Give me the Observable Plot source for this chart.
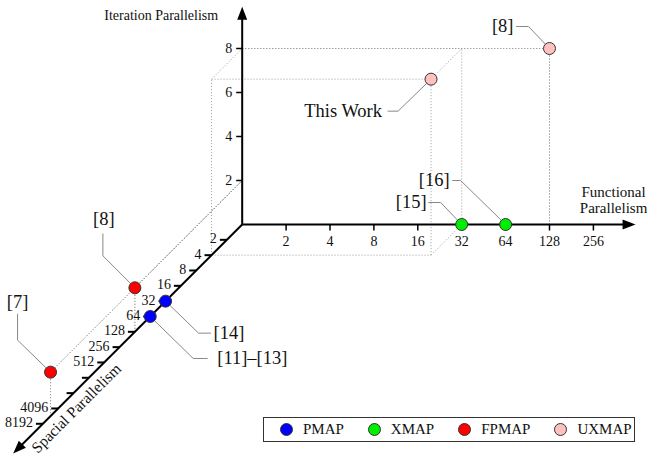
<!DOCTYPE html>
<html>
<head>
<meta charset="utf-8">
<script src="https://cdn.jsdelivr.net/npm/d3@7"></script>
<script src="https://cdn.jsdelivr.net/npm/@observablehq/plot@0.6"></script>
<style>
  body { margin: 0; background: #fff; }
  #wrap { position: relative; width: 647px; height: 455px; font-family: "Liberation Serif", "Times New Roman", serif; color: #111; }
  #legend { position: absolute; left: 263px; top: 417px; width: 372px; height: 25px; border: 1px solid #333;
            display: flex; align-items: center; font-size: 15px; padding-left: 16px; box-sizing: border-box; background: #fff; }
  .item { display: flex; align-items: center; margin-right: 24px; }
  .sw { width: 11px; height: 11px; border-radius: 50%; border: 1px solid #333; margin-right: 10px; }
</style>
</head>
<body>
<div id="wrap"></div>
<script>
// ---------------- data ----------------
const labels     = ["[14]", "[11]–[13]", "[15]", "[16]", "[8]", "[7]", "This Work", "[8]"];
const types      = ["PMAP", "PMAP", "XMAP", "XMAP", "FPMAP", "FPMAP", "UXMAP", "UXMAP"];
const functional = [1, 1, 32, 64, 1, 1, 32, 128];      // Functional Parallelism
const iteration  = [0, 0, 0, 0, 2, 2, 8, 8];           // Iteration Parallelism
const spatial    = [32, 64, 1, 1, 128, 5800, 4, 1];    // Spacial Parallelism

const xTicks = [2, 4, 8, 16, 32, 64, 128, 256];
const yTicks = [2, 4, 6, 8];
const zTicks = [2, 4, 8, 16, 32, 64, 128, 256, 512, 1024, 2048, 4096, 8192];
const zTickLabels = ["2", "4", "8", "16", "32", "64", "128", "256", "512", "", "", "4096", "8192"];

const categories = ["PMAP", "XMAP", "FPMAP", "UXMAP"];
const colors     = ["#0000ff", "#00ee00", "#ff0000", "#ffc0c0"];

// axis extents (data units)
const xAxisEnd = 2 ** 8.96, yAxisEnd = 9.9, zAxisEnd = 2 ** 14.94;

// ---------------- layout / projection ----------------
const W = 647, H = 455;
const X0 = 241.7, Y0 = 224;          // pixel location of the origin
const KX = 43.9, KY = 22, KZ = 15.33; // px per doubling (x), per unit (y), per doubling (z, diagonal)
const lg = Math.log2;
function P(f, it, s) { return {x: lg(f) - lg(s) * KZ / KX, y: it - lg(s) * KZ / KY}; }
function off(p, dx, dy) { return {x: p.x + dx / KX, y: p.y - dy / KY}; }

// annotation layout (pixel offsets from each point)
const layout = [
  {elbow: [33, 32],   end: [45, 32],   text: [48, 32],   anchor: "start"},
  {elbow: [43, 42],   end: [57, 42],   text: [67, 42],   anchor: "start"},
  {elbow: [-21, -22], end: [-33, -22], text: [-35, -22], anchor: "end"},
  {elbow: [-45, -44], end: [-53, -44], text: [-56, -44], anchor: "end"},
  {elbow: [-32, -32], end: [-32, -54], text: [-31, -69], anchor: "middle"},
  {elbow: [-33, -32], end: [-33, -58], text: [-33, -70], anchor: "middle"},
  {elbow: [-33, 32],  end: [-43, 32],  text: [-49, 32],  anchor: "end"},
  {elbow: [-21, -22], end: [-33, -22], text: [-36, -22], anchor: "end"}
];

const pts = labels.map((label, i) => ({i, label, type: types[i], ...P(functional[i], iteration[i], spatial[i])}));

// dotted guide box edges for each elevated point
const edges = [];
pts.forEach((d, i) => {
  const f = functional[i], it = iteration[i], s = spatial[i];
  if (it <= 0) return;
  const E = [
    [[1, it, 1], [f, it, 1]], [[1, it, s], [f, it, s]], [[1, 0, s], [f, 0, s]],
    [[f, 0, 1], [f, it, 1]], [[1, 0, s], [1, it, s]], [[f, 0, s], [f, it, s]],
    [[f, 0, 1], [f, 0, s]], [[1, it, 1], [1, it, s]], [[f, it, 1], [f, it, s]]
  ];
  E.forEach(([a3, b3]) => {
    const a = P(...a3), b = P(...b3);
    if (Math.hypot(a.x - b.x, a.y - b.y) < 1e-9) return;
    edges.push({x1: a.x, y1: a.y, x2: b.x, y2: b.y});
  });
});

// leader lines
const leaders = [];
pts.forEach((d) => {
  const L = layout[d.i];
  leaders.push({i: d.i, ...d});
  leaders.push({i: d.i, ...off(d, ...L.elbow)});
  leaders.push({i: d.i, ...off(d, ...L.end)});
});
const labelRows = pts.map(d => ({...off(d, ...layout[d.i].text), label: d.label, anchor: layout[d.i].anchor}));

// axes
const O = P(1, 0, 1);
const xTip = P(xAxisEnd, 0, 1), yTip = P(1, yAxisEnd, 1), zTip = P(1, 0, zAxisEnd);
const axes = [
  {a: O, b: off(xTip, -6, 0)},
  {a: O, b: off(yTip, 0, 6)},
  {a: O, b: off(zTip, 4.2, -4.2)}
];
const tips = [{...xTip, rot: 90}, {...yTip, rot: 0}, {...zTip, rot: 225}];
const arrowHead = {draw(ctx) { ctx.moveTo(0, 0); ctx.lineTo(-5, 13); ctx.lineTo(5, 13); ctx.closePath(); }};

const FONT = "Liberation Serif";
const LABEL_SIZE = 18.5;

const chart = Plot.plot({
  width: W, height: H,
  margin: 0,
  x: {domain: [-X0 / KX, (W - X0) / KX], axis: null},
  y: {domain: [(Y0 - H) / KY, Y0 / KY], axis: null},
  color: {domain: categories, range: colors},
  style: {fontFamily: FONT, background: "white", overflow: "visible"},
  marks: [
    // dotted guides
    Plot.link(edges, {x1: "x1", y1: "y1", x2: "x2", y2: "y2", stroke: "#9a9a9a", strokeWidth: 1, strokeDasharray: "1,2"}),
    // leader lines
    Plot.line(leaders, {x: "x", y: "y", z: "i", stroke: "#888", strokeWidth: 1}),
    // axis lines
    Plot.link(axes, {x1: d => d.a.x, y1: d => d.a.y, x2: d => d.b.x, y2: d => d.b.y, stroke: "black", strokeWidth: 2}),
    Plot.dot(tips, {x: "x", y: "y", rotate: "rot", symbol: arrowHead, fill: "black", stroke: "none"}),
    // x ticks
    Plot.link(xTicks, {x1: f => P(f, 0, 1).x, y1: f => P(f, 0, 1).y, x2: f => off(P(f, 0, 1), 0, 6).x, y2: f => off(P(f, 0, 1), 0, 6).y, stroke: "black", strokeWidth: 1.5}),
    Plot.text(xTicks, {x: f => P(f, 0, 1).x, y: f => P(f, 0, 1).y, text: f => String(f), dy: 17, fontSize: 14, fontFamily: FONT, fill: "#111"}),
    // y ticks
    Plot.link(yTicks, {x1: v => P(1, v, 1).x, y1: v => P(1, v, 1).y, x2: v => off(P(1, v, 1), -6, 0).x, y2: v => off(P(1, v, 1), -6, 0).y, stroke: "black", strokeWidth: 1.5}),
    Plot.text(yTicks, {x: v => P(1, v, 1).x, y: v => P(1, v, 1).y, text: v => String(v), dx: -10, textAnchor: "end", fontSize: 14, fontFamily: FONT, fill: "#111"}),
    // z ticks
    Plot.link(zTicks, {x1: s => P(1, 0, s).x, y1: s => P(1, 0, s).y, x2: s => off(P(1, 0, s), -7, 0).x, y2: s => off(P(1, 0, s), -7, 0).y, stroke: "black", strokeWidth: 2}),
    Plot.text(zTicks, {x: s => P(1, 0, s).x, y: s => P(1, 0, s).y, text: (s, i) => zTickLabels[i], dx: -10, dy: -1, textAnchor: "end", fontSize: 14, fontFamily: FONT, fill: "#111"}),
    // axis titles
    Plot.text(["Iteration Parallelism"], {x: () => P(1, 9.5, 1).x, y: () => P(1, 9.5, 1).y, text: d => d, dx: -24, textAnchor: "end", fontSize: 14, fontFamily: FONT, fill: "#111"}),
    Plot.text(["Functional\nParallelism"], {x: () => P(2 ** 8.46, 0, 1).x, y: () => P(2 ** 8.46, 0, 1).y, text: d => d, dy: -24.5, lineHeight: 1.05, fontSize: 15, fontFamily: FONT, fill: "#111"}),
    Plot.text(["Spacial Parallelism"], {x: () => P(1, 0, 2 ** 11.4).x, y: () => P(1, 0, 2 ** 11.4).y, text: d => d, dx: 9, dy: 9, rotate: -45, fontSize: 15.5, fontFamily: FONT, fill: "#111"}),
    // points
    Plot.dot(pts, {x: "x", y: "y", fill: "type", r: 6, stroke: "#333", strokeWidth: 1}),
    // point labels
    Plot.text(labelRows.filter(d => d.anchor === "start"), {x: "x", y: "y", text: "label", textAnchor: "start", fontSize: LABEL_SIZE, fontFamily: FONT, fill: "#111"}),
    Plot.text(labelRows.filter(d => d.anchor === "end"), {x: "x", y: "y", text: "label", textAnchor: "end", fontSize: LABEL_SIZE, fontFamily: FONT, fill: "#111"}),
    Plot.text(labelRows.filter(d => d.anchor === "middle"), {x: "x", y: "y", text: "label", textAnchor: "middle", fontSize: LABEL_SIZE, fontFamily: FONT, fill: "#111"})
  ]
});

const wrap = document.getElementById("wrap");
wrap.appendChild(chart);

// legend
const legend = document.createElement("div");
legend.id = "legend";
categories.forEach((c, i) => {
  const item = document.createElement("div");
  item.className = "item";
  const sw = document.createElement("span");
  sw.className = "sw";
  sw.style.background = colors[i];
  const t = document.createElement("span");
  t.textContent = c;
  item.appendChild(sw);
  item.appendChild(t);
  legend.appendChild(item);
});
wrap.appendChild(legend);
</script>
</body>
</html>
